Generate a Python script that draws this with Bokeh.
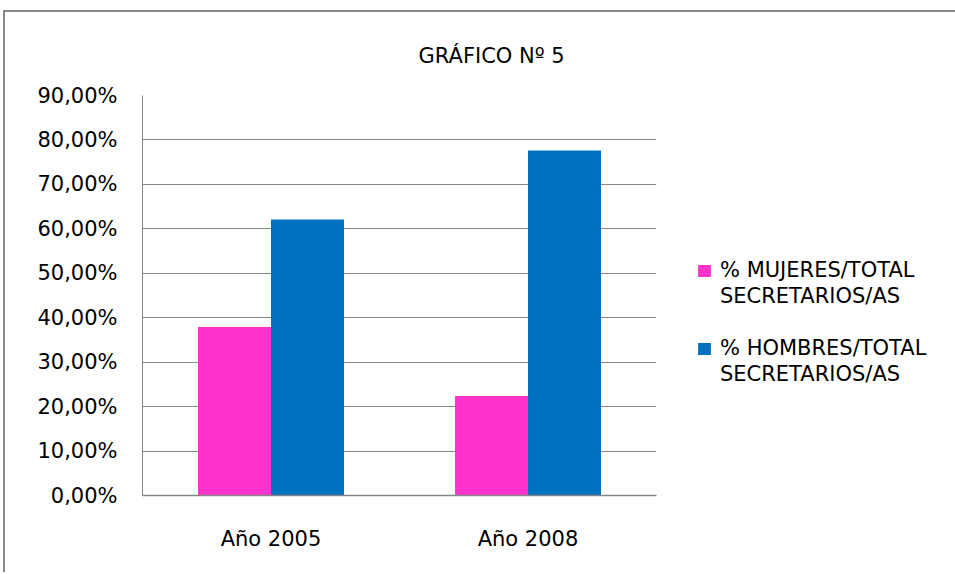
from bokeh.plotting import figure
from bokeh.models import FactorRange, Range1d, FixedTicker, ColumnDataSource, Legend, LegendItem
from bokeh.transform import dodge
from bokeh.embed import file_html
from bokeh.resources import INLINE

# ---- data ----
categories = ["Año 2005", "Año 2008"]
mujeres = [37.9, 22.4]
hombres = [62.1, 77.6]
y_ticks = [0, 10, 20, 30, 40, 50, 60, 70, 80, 90]
y_tick_labels = ["0,00%", "10,00%", "20,00%", "30,00%", "40,00%",
                 "50,00%", "60,00%", "70,00%", "80,00%", "90,00%"]
series_lines = [["% MUJERES/TOTAL", "SECRETARIOS/AS"],
                ["% HOMBRES/TOTAL", "SECRETARIOS/AS"]]
series_colors = ["#FF33CC", "#0070C0"]
title_text = "GRÁFICO Nº 5"

FONT = "DejaVu Sans"
FSIZE = "21px"
GRAY = "#868686"
TXT = "#000000"

src = ColumnDataSource(dict(cat=categories, mujeres=mujeres, hombres=hombres))

p = figure(x_range=FactorRange(factors=categories, range_padding=0),
           y_range=Range1d(0, 90),
           frame_width=514, frame_height=400,
           min_border_left=137, min_border_right=297,
           min_border_top=83, min_border_bottom=77,
           output_backend="svg", toolbar_location=None,
           background_fill_color="white", border_fill_color="white")
p.styles = {"margin-left": "3px", "margin-top": "10px",
            "border-top": "2.5px solid #878787", "border-left": "2.5px solid #878787"}

bw = 0.284
r1 = p.vbar(x=dodge("cat", -bw / 2, range=p.x_range), top="mujeres", width=bw, source=src,
            fill_color=series_colors[0], line_color=None)
r2 = p.vbar(x=dodge("cat", bw / 2, range=p.x_range), top="hombres", width=bw, source=src,
            fill_color=series_colors[1], line_color=None)

p.outline_line_color = None
p.xgrid.visible = False
p.ygrid.grid_line_color = GRAY
p.ygrid.grid_line_width = 1

p.yaxis.ticker = FixedTicker(ticks=y_ticks)
p.yaxis.major_label_overrides = dict(zip(y_ticks, y_tick_labels))
for ax in (p.xaxis, p.yaxis):
    ax.axis_line_color = GRAY
    ax.major_tick_out = 0
    ax.major_tick_in = 0
    ax.minor_tick_out = 0
    ax.minor_tick_in = 0
    ax.major_label_text_font = FONT
    ax.major_label_text_font_size = FSIZE
    ax.major_label_text_color = TXT
p.xaxis.axis_line_width = 1.5
p.yaxis.major_label_standoff = 25
p.xaxis.major_label_standoff = 31

# title
p.title.text = title_text
p.title.align = "left"
p.title.offset = 276
p.title.standoff = 56
p.title.text_font = FONT
p.title.text_font_size = FSIZE
p.title.text_font_style = "normal"
p.title.text_color = TXT

# legend: first line carries the colour key, second line has no key,
# an empty row separates the two entries
items = [
    LegendItem(label=series_lines[0][0], renderers=[r1]),
    LegendItem(label=series_lines[0][1], renderers=[]),
    LegendItem(label=" ", renderers=[]),
    LegendItem(label=series_lines[1][0], renderers=[r2]),
    LegendItem(label=series_lines[1][1], renderers=[]),
]
legend = Legend(items=items, location=(40, 108), orientation="vertical",
                glyph_width=16, glyph_height=15, label_standoff=8,
                label_height=26, spacing=0, padding=0, margin=0,
                label_text_font=FONT, label_text_font_size=FSIZE,
                label_text_color=TXT,
                border_line_color=None, background_fill_alpha=0)
p.add_layout(legend, "right")

open("out.html", "w").write(file_html(p, INLINE))
